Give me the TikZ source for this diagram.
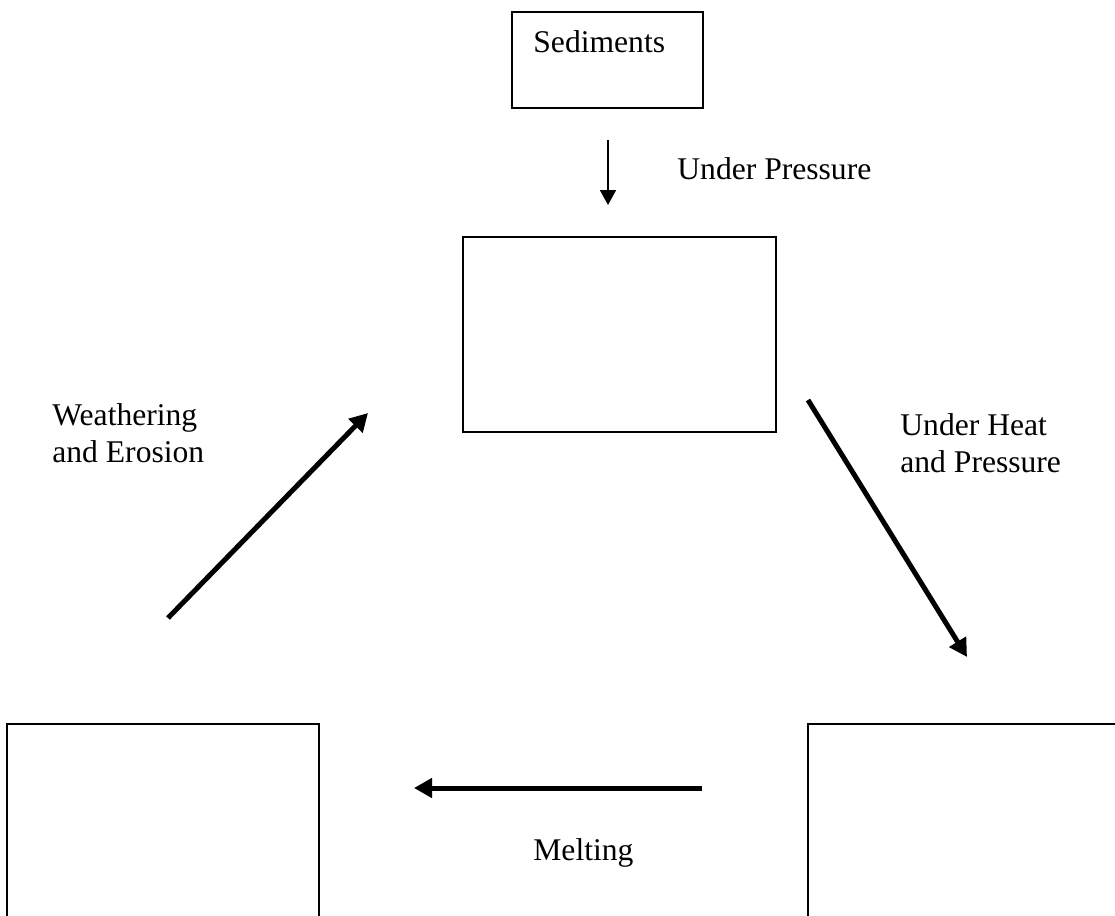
\documentclass[tikz,border=0pt]{standalone}
\usepackage{fontspec}
\setmainfont{Liberation Serif}
\usetikzlibrary{positioning, arrows.meta}
\tikzset{
  % Rock cycle boxes and arrows
  rockbox/.style  = { draw, line width=1pt, inner sep=0 },
  bigbox/.style   = { rockbox, minimum width=156.5pt, minimum height=97.5pt },
  sidebox/.style  = { rockbox, line width=1.3pt, minimum width=156pt, minimum height=150pt },
  thinflow/.style = { line width=0.9pt, -{Triangle[length=7.5pt, width=8pt]} },
  cycleflow/.style= { line width=2.5pt, -{Triangle[length=9pt, width=9.5pt]} },
  steplabel/.style= { font=\fontsize{15.8}{18.5}\selectfont, align=left,
                       inner sep=0, anchor=north west }
}

\begin{document}
\begin{tikzpicture}[x=0.5pt, y=-0.5pt]

  \useasboundingbox (0,0) rectangle (1115,916);
  \clip (0,0) rectangle (1115,916);

  \node[rockbox, minimum width=95.5pt, minimum height=48pt] (sediments) at (607.5,60) {};
  \node[steplabel] (sedtext) at (533,30) {Sediments};
  \node[bigbox] (sedrock) at (619.5,334.5) {};
  \node[sidebox] (igneous) at (163,874) {};
  \node[sidebox, minimum width=180pt] (meta) at (988,874) {};

  % free ends of the arrows
  \coordinate (presstop) at (608,140);
  \coordinate (pressbot) at (608,205);
  \coordinate (heattop) at (808,400);
  \coordinate (heatbot) at (967,657);
  \coordinate (meltright) at (702,788);
  \coordinate (meltleft) at (414,788);
  \coordinate (weatherbot) at (168,618);
  \coordinate (weathertop) at (368,413);

  \draw[thinflow] (presstop) -- (pressbot);
  \draw[cycleflow] (heattop) -- (heatbot);
  \draw[cycleflow] (meltright) -- (meltleft);
  \draw[cycleflow] (weatherbot) -- (weathertop);

  \node[steplabel] (presslabel) at (677,157) {Under Pressure};
  \node[steplabel] (heatlabel) at (900,413) {Under Heat\\and Pressure};
  \node[steplabel] (meltlabel) at (533,838) {Melting};
  \node[steplabel] (weatherlabel) at (52,403) {Weathering\\and Erosion};

\end{tikzpicture}
\end{document}
